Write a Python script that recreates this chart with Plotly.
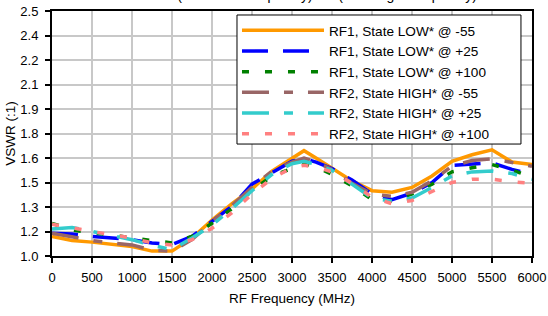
import plotly.graph_objects as go

freq = [0, 250, 500, 750, 1000, 1250, 1500, 1750, 2000, 2250, 2500, 2750, 3000, 3150,
        3300, 3500, 3750, 4000, 4250, 4500, 4750, 5000, 5250, 5500, 5750, 6000]

rf1_low_m55 = [1.12, 1.095, 1.085, 1.072, 1.058, 1.03, 1.03, 1.11, 1.22, 1.32, 1.41, 1.52, 1.60, 1.645,
               1.60, 1.54, 1.46, 1.40, 1.39, 1.42, 1.49, 1.58, 1.62, 1.65, 1.575, 1.56]
rf1_low_p25 = [1.14, 1.135, 1.12, 1.11, 1.10, 1.08, 1.07, 1.12, 1.21, 1.305, 1.44, 1.51, 1.58, 1.595,
               1.575, 1.535, 1.465, 1.38, 1.345, 1.385, 1.45, 1.555, 1.565, 1.57, 1.53, 1.50]
rf1_low_p100 = [1.20, 1.16, 1.14, 1.13, 1.11, 1.095, 1.08, 1.12, 1.20, 1.29, 1.40, 1.49, 1.535, 1.565,
                1.545, 1.50, 1.43, 1.345, 1.335, 1.38, 1.44, 1.515, 1.54, 1.56, 1.525, 1.485]
rf2_high_m55 = [1.14, 1.115, 1.095, 1.08, 1.068, 1.035, 1.03, 1.10, 1.21, 1.31, 1.42, 1.52, 1.575, 1.60,
                1.575, 1.53, 1.445, 1.38, 1.365, 1.39, 1.46, 1.55, 1.585, 1.595, 1.575, 1.55]
rf2_high_p25 = [1.165, 1.175, 1.15, 1.125, 1.10, 1.065, 1.04, 1.11, 1.19, 1.29, 1.40, 1.50, 1.565, 1.58,
                1.56, 1.525, 1.44, 1.355, 1.335, 1.355, 1.42, 1.49, 1.515, 1.52, 1.505, 1.47]
rf2_high_p100 = [1.195, 1.17, 1.15, 1.13, 1.11, 1.08, 1.068, 1.10, 1.17, 1.265, 1.38, 1.475, 1.54, 1.555,
                 1.545, 1.515, 1.445, 1.36, 1.32, 1.34, 1.395, 1.45, 1.47, 1.47, 1.455, 1.445]

series_names = ["RF1, State LOW* @ -55", "RF1, State LOW* @ +25", "RF1, State LOW* @ +100",
                "RF2, State HIGH* @ -55", "RF2, State HIGH* @ +25", "RF2, State HIGH* @ +100"]

y_tickvals = [1.0, 1.15, 1.3, 1.45, 1.6, 1.75, 1.9, 2.05, 2.2, 2.35, 2.5]
y_ticktext = ["1.0", "1.2", "1.3", "1.5", "1.6", "1.8", "1.9", "2.1", "2.2", "2.4", "2.5"]

title_text = "VSWR (RF1 Low Frequency) vs. (RF2 High Frequency)"
x_title = "RF Frequency (MHz)"
y_title = "VSWR (:1)"

styles = [
    dict(color="#FF9900", width=3.5, dash="solid"),
    dict(color="#0000FF", width=3.5, dash="26px,15px"),
    dict(color="#008000", width=3.5, dash="7px,16px"),
    dict(color="#996666", width=3.5, dash="27px,15px,9px,15px"),
    dict(color="#33CCCC", width=3.5, dash="27px,15px,9px,15px"),
    dict(color="#FF8080", width=3.5, dash="7px,16px"),
]

all_series = [rf1_low_m55, rf1_low_p25, rf1_low_p100, rf2_high_m55, rf2_high_p25, rf2_high_p100]

fig = go.Figure()
for name, ys, st in zip(series_names, all_series, styles):
    fig.add_trace(go.Scatter(x=freq, y=ys, mode="lines", name=name, line=st))

font_family = "Liberation Sans, Arial, sans-serif"

# legend frame (drawn as a box behind the legend entries)
fig.add_shape(type="rect", xref="paper", yref="paper",
              x0=0.3854, x1=0.977, y0=0.457, y1=0.9837,
              line=dict(color="black", width=1), fillcolor="white", layer="above")

fig.update_layout(
    width=548, height=316,
    margin=dict(l=52, r=16, t=11, b=60, autoexpand=False),
    paper_bgcolor="white", plot_bgcolor="white",
    font=dict(family=font_family, size=13, color="black"),
    title=dict(text=title_text, x=0.555, xanchor="center", y=1.0, yref="container",
               yanchor="bottom", automargin=False,
               font=dict(size=14, family=font_family, color="black")),
    showlegend=True,
    legend=dict(x=0.3854, y=0.9837, xanchor="left", yanchor="top",
                bgcolor="rgba(0,0,0,0)", borderwidth=0,
                font=dict(size=13.6, family=font_family), itemwidth=82,
                tracegroupgap=0),
)

fig.update_xaxes(range=[0, 6000], dtick=500, tick0=0, automargin=False,
                 showgrid=True, gridcolor="#c8c8c8", gridwidth=2,
                 showline=True, linecolor="black", linewidth=2, mirror=True,
                 ticks="outside", ticklen=5, tickcolor="black", tickwidth=2,
                 ticklabelstandoff=3,
                 title=dict(text=x_title, font=dict(size=13.5), standoff=10),
                 zeroline=False)
fig.update_yaxes(range=[1.0, 2.5], tickvals=y_tickvals, ticktext=y_ticktext, automargin=False,
                 showgrid=True, gridcolor="#c8c8c8", gridwidth=2,
                 showline=True, linecolor="black", linewidth=2, mirror=True,
                 ticks="outside", ticklen=5, tickcolor="black", tickwidth=2,
                 ticklabelstandoff=4,
                 title=dict(text=y_title, font=dict(size=13.5), standoff=2),
                 zeroline=False)

fig.write_html("out.html", config={"displayModeBar": False},
               post_script="document.body.style.margin='0px';document.body.style.overflow='hidden';")
